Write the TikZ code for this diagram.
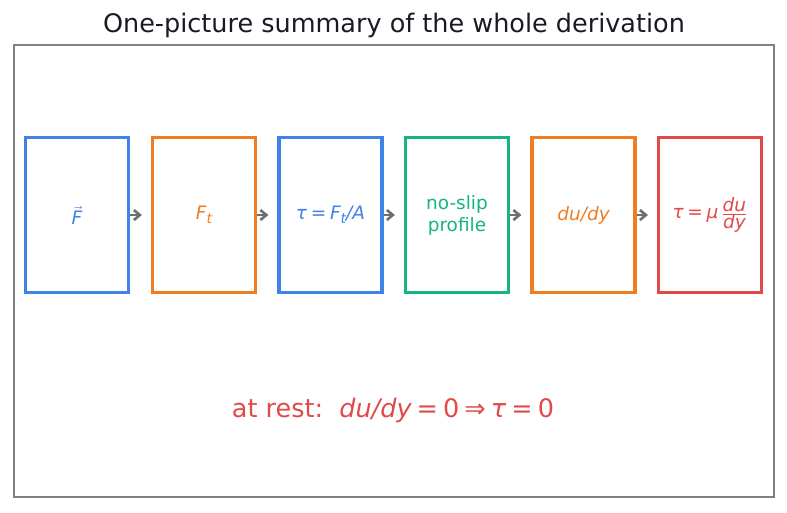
\documentclass[tikz,border=0pt]{standalone}
\usepackage{fontspec}
\setmainfont{DejaVu Sans}
\usetikzlibrary{arrows.meta}
\definecolor{cblue}{HTML}{3F83E8}
\definecolor{corange}{HTML}{EF7D22}
\definecolor{cgreen}{HTML}{16B57F}
\definecolor{cred}{HTML}{E04A4A}
\definecolor{ctitle}{HTML}{1A1A24}
\definecolor{cframe}{HTML}{808080}
\definecolor{carrow}{HTML}{6E6E6E}
\newcommand{\iv}[1]{\mbox{\itshape #1}}
\newcommand{\subt}{\raisebox{-0.35ex}{\fontsize{14}{15}\selectfont\itshape t}}
\newcommand{\ms}{\hspace{0.2em}}
\tikzset{
  stepbox/.style={draw, line width=3.2pt, minimum width=103pt, minimum height=155pt, inner sep=0pt, align=center, font=\fontsize{18.5}{22}\selectfont},
  arr/.style={draw=carrow, line width=2.6pt, -{Straight Barb[length=6pt,width=10pt]}},
}
\begin{document}
\begin{tikzpicture}[x=1pt,y=-1pt]
\useasboundingbox (0,0) rectangle (787,512);
\node[text=ctitle, font=\fontsize{25.5}{30}\selectfont] (title) at (394,25) {One-picture summary of the whole derivation};
\draw[cframe, line width=1.3pt] (14,45) rectangle (774,497);
\node[stepbox, draw=cblue, text=cblue] (b1) at (77,215) {$\vec{\iv{F}}$};
\node[stepbox, draw=corange, text=corange] (b2) at (204,215) {\iv{F}\subt};
\node[stepbox, draw=cblue, text=cblue] (b3) at (330.5,215) {\iv{τ}\ms=\ms\iv{F}\subt\iv{/A}};
\node[stepbox, draw=cgreen, text=cgreen] (b4) at (457,215) {no-slip\\profile};
\node[stepbox, draw=corange, text=corange] (b5) at (583.5,215) {\iv{du/dy}};
\node[stepbox, draw=cred, text=cred] (b6) at (710,215) {\iv{τ}\ms=\ms\iv{μ}\,$\frac{\iv{du}}{\iv{dy}}$};
\foreach \a/\b in {b1/b2,b2/b3,b3/b4,b4/b5,b5/b6}
  \draw[arr] (\a.east) -- ([xshift=-9pt]\b.west);
\node[text=cred, font=\fontsize{25.5}{30}\selectfont] (rest) at (393,410) {at rest:\ \ \iv{du/dy}\ms=\ms0\ms⇒\ms\iv{τ}\ms=\ms0};
\end{tikzpicture}
\end{document}
